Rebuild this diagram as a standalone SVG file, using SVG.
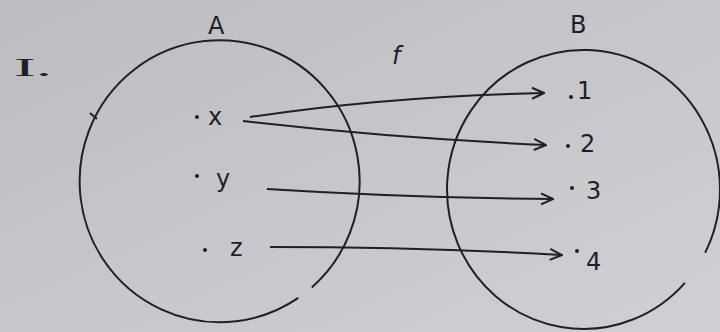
<svg xmlns="http://www.w3.org/2000/svg" width="720" height="332" viewBox="0 0 720 332">
<defs>
<linearGradient id="bg" x1="0" y1="0" x2="1" y2="1">
<stop offset="0" stop-color="#bdbcc2"/>
<stop offset="1" stop-color="#d0d0d4"/>
</linearGradient>
<marker id="arr" viewBox="0 0 14 14" refX="13" refY="7" markerWidth="14" markerHeight="14" markerUnits="userSpaceOnUse" orient="auto">
<path d="M1,1.5 L13,7 L1,12.5" fill="none" stroke="#1f1f28" stroke-width="2"/>
</marker>
<style>
.set{fill:none;stroke:#1f1f28;stroke-width:2}
.lbl{font-family:"DejaVu Sans","Liberation Sans",sans-serif;fill:#1f1f28;font-size:24px}
.el{font-family:"DejaVu Sans","Liberation Sans",sans-serif;fill:#1f1f28;font-size:24px}
.dot{fill:#1f1f28}
.con{fill:none;stroke:#1f1f28;stroke-width:2;marker-end:url(#arr)}
</style>
</defs>
<rect width="720" height="332" fill="url(#bg)"/>
<text x="14" y="76" style="font-family:'Liberation Serif',serif;font-size:26px;fill:#1f1f28" textLength="38" lengthAdjust="spacingAndGlyphs">I.</text>
<text class="lbl" x="392" y="64" font-style="italic" font-size="28">f</text>
<g id="setA">
<path class="set" d="M298.3,297.9 A140,141 0 1 1 311.8,287.4"/>
<path class="set" d="M90,113 L97,119" stroke-width="1.5"/>
<text class="lbl" x="208" y="34">A</text>
</g>
<g id="setB">
<path class="set" d="M684.9,282.8 A136.5,139.5 0 1 1 705.1,252.8"/>
<text class="lbl" x="570" y="33">B</text>
</g>
<g id="node-x"><circle class="dot" cx="197" cy="117" r="2"/><text class="el" x="208" y="125">x</text></g>
<g id="node-y"><circle class="dot" cx="197" cy="176" r="2"/><text class="el" x="216" y="187">y</text></g>
<g id="node-z"><circle class="dot" cx="205" cy="250" r="2"/><text class="el" x="230" y="256">z</text></g>
<g id="node-1"><circle class="dot" cx="571" cy="97" r="2"/><text class="el" x="577" y="99">1</text></g>
<g id="node-2"><circle class="dot" cx="568" cy="146" r="2"/><text class="el" x="580" y="152">2</text></g>
<g id="node-3"><circle class="dot" cx="572" cy="188" r="2"/><text class="el" x="586" y="199">3</text></g>
<g id="node-4"><circle class="dot" cx="577" cy="251" r="2"/><text class="el" x="586" y="270">4</text></g>
<g id="connectors">
<path class="con" d="M250,117 Q390,96 544,93"/>
<path class="con" d="M243,121 Q390,138 546,145"/>
<path class="con" d="M267,189 Q410,198 553,199"/>
<path class="con" d="M270,247 Q420,247 562,255"/>
</g>
</svg>
